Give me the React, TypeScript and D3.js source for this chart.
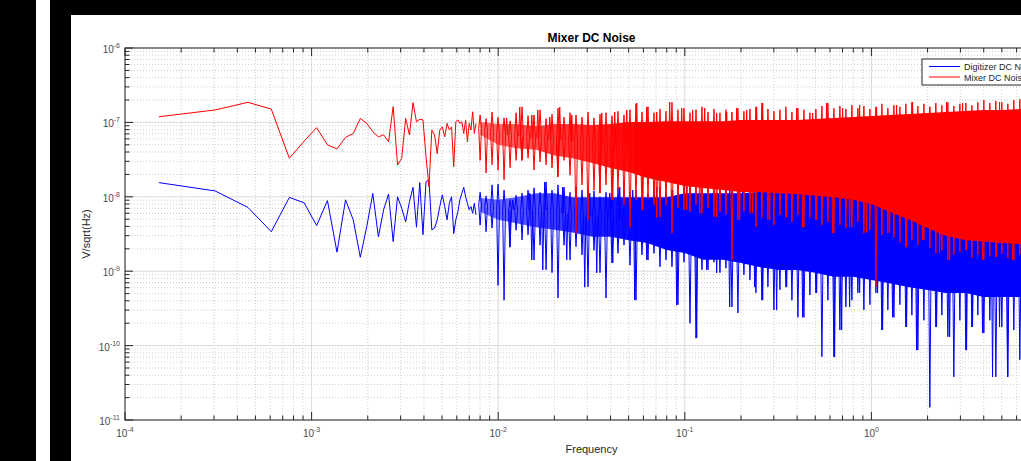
import React from 'react';
import * as d3 from 'd3';

// FFT bins that are still resolved as single points (Hz)
const lowFreq = [
  1.52e-4, 3.04e-4, 4.56e-4, 6.08e-4, 7.6e-4, 9.12e-4, 1.064e-3, 1.216e-3, 1.368e-3, 1.52e-3,
  1.672e-3, 1.824e-3, 1.976e-3, 2.128e-3, 2.28e-3, 2.432e-3, 2.584e-3, 2.736e-3, 2.888e-3, 3.04e-3,
  3.192e-3, 3.344e-3, 3.496e-3, 3.648e-3, 3.8e-3, 3.952e-3, 4.104e-3, 4.256e-3, 4.408e-3, 4.56e-3,
  4.712e-3, 4.864e-3, 5.016e-3, 5.168e-3, 5.32e-3, 5.472e-3, 5.624e-3, 5.776e-3, 5.928e-3, 6.08e-3,
  6.232e-3, 6.384e-3, 6.536e-3, 6.688e-3, 6.84e-3, 6.992e-3, 7.144e-3, 7.296e-3, 7.448e-3, 7.6e-3,
];
const digitizerLow = [
  1.55e-8, 1.2e-8, 7.2e-9, 3.4e-9, 9.8e-9, 8.3e-9, 4.1e-9, 8.9e-9, 1.8e-9, 9.1e-9,
  4.9e-9, 1.54e-9, 4.0e-9, 1.11e-8, 2.9e-9, 6.7e-9, 1.09e-8, 2.5e-9, 1.0e-8, 7.0e-9,
  4.6e-9, 8.6e-9, 1.34e-8, 3.9e-9, 1.55e-8, 3.1e-9, 1.6e-8, 1.68e-8, 3.6e-9, 3.8e-9,
  4.9e-9, 7.4e-9, 1.06e-8, 7.4e-9, 4.9e-9, 8.2e-9, 1.0e-8, 3.2e-9, 4.9e-9, 6.3e-9,
  9.1e-9, 1.11e-8, 1.34e-8, 1.0e-8, 8.2e-9, 6.7e-9, 7.4e-9, 6.0e-9, 8.2e-9, 5.7e-9,
];
const mixerLow = [
  1.19e-7, 1.47e-7, 1.86e-7, 1.51e-7, 3.3e-8, 5.6e-8, 8.5e-8, 5.0e-8, 4.4e-8, 6.3e-8,
  7.1e-8, 1.13e-7, 9.7e-8, 7.5e-8, 6.4e-8, 6.8e-8, 5.5e-8, 1.63e-7, 2.67e-8, 3.3e-8,
  1.13e-7, 6.8e-8, 1.84e-7, 1.02e-7, 1.1e-7, 1.08e-7, 3.46e-8, 1.37e-8, 7.9e-8, 6.8e-8,
  3.8e-8, 7.9e-8, 8.7e-8, 6.4e-8, 9.7e-8, 7.9e-8, 8.7e-8, 2.54e-8, 1.02e-7, 1.08e-7,
  9.7e-8, 1.02e-7, 7.1e-8, 1.08e-7, 5.5e-8, 9.7e-8, 7.9e-8, 1.39e-7, 7.1e-8, 9.7e-8,
];

// above ~8 mHz the trace is too dense to resolve: solid core of the band
const bandFreq = [
  0.008, 0.01, 0.0125, 0.016, 0.02, 0.025, 0.032, 0.04, 0.05, 0.063, 0.08, 0.1, 0.125, 0.16, 0.2, 0.25,
  0.32, 0.4, 0.5, 0.63, 0.8, 1.0, 1.25, 1.6, 2.0, 2.5, 3.2, 4.0, 5.0, 6.3, 8.0, 10,
];
const mixerBandHi = [
  1.01e-7, 9.5e-8, 9.5e-8, 8.9e-8, 9.5e-8, 9.5e-8, 9.2e-8, 9.5e-8, 1.01e-7, 1.01e-7, 1.04e-7, 1.04e-7, 1.04e-7, 1.04e-7, 1.08e-7, 1.08e-7,
  1.08e-7, 1.08e-7, 1.11e-7, 1.15e-7, 1.18e-7, 1.22e-7, 1.26e-7, 1.3e-7, 1.34e-7, 1.38e-7, 1.42e-7, 1.47e-7, 1.47e-7, 1.51e-7, 1.51e-7, 1.51e-7,
];
const mixerBandLo = [
  6.8e-8, 5.0e-8, 4.5e-8, 4.3e-8, 3.6e-8, 3.3e-8, 2.85e-8, 2.44e-8, 2.15e-8, 1.79e-8, 1.58e-8, 1.4e-8, 1.31e-8, 1.23e-8, 1.16e-8, 1.16e-8,
  1.12e-8, 1.09e-8, 1.03e-8, 9.9e-9, 9.1e-9, 8.0e-9, 6.3e-9, 4.9e-9, 3.8e-9, 3.0e-9, 2.6e-9, 2.5e-9, 2.4e-9, 2.3e-9, 2.3e-9, 2.3e-9,
];
const digitizerBandHi = [
  9.6e-9, 9.1e-9, 9.9e-9, 1.12e-8, 1.12e-8, 9.9e-9, 9.9e-9, 9.9e-9, 9.9e-9, 9.9e-9, 9.9e-9, 1.12e-8, 1.12e-8, 1.12e-8, 1.12e-8, 1.16e-8,
  1.16e-8, 1.16e-8, 1.16e-8, 1.16e-8, 1.16e-8, 1.16e-8, 1.16e-8, 1.16e-8, 1.16e-8, 1.16e-8, 1.16e-8, 1.16e-8, 1.16e-8, 1.16e-8, 1.16e-8, 1.16e-8,
];
const digitizerBandLo = [
  6.3e-9, 4.9e-9, 4.4e-9, 3.9e-9, 3.6e-9, 3.3e-9, 2.9e-9, 2.9e-9, 2.6e-9, 2.4e-9, 1.93e-9, 1.76e-9, 1.42e-9, 1.42e-9, 1.29e-9, 1.14e-9,
  1.04e-9, 1.04e-9, 9.5e-10, 8.4e-10, 8.4e-10, 7.6e-10, 6.9e-10, 6.1e-10, 5.6e-10, 5.1e-10, 5.1e-10, 4.5e-10, 4.5e-10, 4.5e-10, 4.5e-10, 4.5e-10,
];

// trace extremes in narrow frequency columns (log10 of V/sqrt(Hz))
const colFreq = [
  0.008, 0.00861, 0.00927, 0.00998, 0.01075, 0.01158, 0.01247, 0.01342, 0.01445, 0.01556,
  0.01676, 0.01805, 0.01943, 0.02092, 0.02253, 0.02426, 0.02612, 0.02813, 0.03029, 0.03261,
  0.03512, 0.03782, 0.04072, 0.04385, 0.04722, 0.05085, 0.05475, 0.05896, 0.06349, 0.06836,
  0.07361, 0.07927, 0.08536, 0.09191, 0.09897, 0.1066, 0.1148, 0.1236, 0.1331, 0.1433,
  0.1543, 0.1661, 0.1789, 0.1926, 0.2074, 0.2234, 0.2405, 0.259, 0.2789, 0.3003,
  0.3234, 0.3482, 0.375, 0.4038, 0.4348, 0.4682, 0.5041, 0.5429, 0.5846, 0.6295,
  0.6778, 0.7299, 0.786, 0.8464, 0.9114, 0.9814, 1.057, 1.138, 1.225, 1.32,
  1.421, 1.53, 1.648, 1.774, 1.911, 2.057, 2.215, 2.386, 2.569, 2.766,
  2.979, 3.207, 3.454, 3.719, 4.005, 4.312, 4.644, 5.0, 5.385, 5.798,
  6.244, 6.72,
];
const mixerColTop = [
  -6.90, -6.95, -6.86, -6.93, -6.94, -6.98, -6.87, -6.79, -6.91, -6.90,
  -6.83, -6.95, -6.89, -6.81, -6.93, -6.87, -6.90, -6.93, -6.86, -6.94,
  -6.89, -6.87, -6.91, -6.85, -6.90, -6.83, -6.75, -6.86, -6.79, -6.87,
  -6.82, -6.85, -6.73, -6.83, -6.81, -6.87, -6.83, -6.79, -6.86, -6.82,
  -6.87, -6.83, -6.86, -6.81, -6.85, -6.82, -6.79, -6.74, -6.82, -6.85,
  -6.83, -6.79, -6.86, -6.81, -6.83, -6.87, -6.82, -6.78, -6.74, -6.81,
  -6.78, -6.82, -6.77, -6.81, -6.78, -6.82, -6.79, -6.75, -6.81, -6.77,
  -6.79, -6.75, -6.73, -6.78, -6.75, -6.79, -6.74, -6.77, -6.73, -6.78,
  -6.75, -6.74, -6.77, -6.73, -6.70, -6.74, -6.71, -6.73, -6.75, -6.70,
  -6.69, -6.71,
];
const mixerColBottom = [
  -7.51, -7.68, -7.57, -7.64, -7.77, -7.61, -7.51, -7.51, -7.48, -7.64,
  -7.53, -7.57, -7.61, -7.73, -7.51, -7.71, -8.49, -7.84, -8.31, -7.91,
  -7.95, -7.84, -8.04, -7.91, -8.11, -8.41, -8.04, -8.18, -8.02, -8.11,
  -8.27, -8.11, -8.49, -8.15, -8.18, -8.20, -8.11, -8.22, -8.15, -8.27,
  -8.20, -8.24, -8.85, -8.31, -8.20, -8.22, -8.41, -8.28, -8.31, -8.38,
  -8.24, -8.27, -8.34, -8.24, -8.41, -8.28, -8.31, -8.38, -8.34, -8.49,
  -8.38, -8.42, -8.41, -8.34, -8.49, -8.45, -9.21, -8.51, -8.49, -8.55,
  -8.61, -8.67, -8.58, -8.65, -8.58, -8.69, -8.76, -8.72, -8.85, -8.78,
  -8.74, -8.72, -8.82, -8.78, -8.85, -8.80, -8.81, -8.77, -8.82, -8.85,
  -8.78, -8.81,
];
const digitizerColTop = [
  -7.94, -7.99, -7.84, -7.83, -7.91, -8.04, -7.98, -7.95, -7.91, -7.88,
  -7.94, -7.80, -7.91, -7.84, -7.87, -7.94, -7.87, -7.91, -7.95, -7.92,
  -8.00, -7.94, -7.95, -7.88, -7.91, -7.94, -7.91, -7.98, -7.95, -7.90,
  -7.87, -7.94, -7.91, -7.95, -7.88, -7.87, -7.94, -7.91, -7.96, -7.95,
  -7.91, -7.90, -7.87, -7.94, -7.91, -7.92, -7.88, -7.91, -7.91, -7.91,
  -7.91, -7.91, -7.91, -7.91, -7.91, -7.91, -7.91, -7.91, -7.91, -7.91,
  -7.91, -7.91, -7.91, -7.91, -7.91, -7.91, -7.91, -7.91, -7.91, -7.91,
  -7.91, -7.91, -7.91, -7.91, -7.91, -7.91, -7.91, -7.91, -7.91, -7.91,
  -7.91, -7.91, -7.91, -7.91, -7.91, -7.91, -7.91, -7.91, -7.91, -7.91,
  -7.91, -7.91,
];
const digitizerColBottom = [
  -8.38, -8.47, -8.42, -9.19, -9.39, -8.67, -8.45, -8.58, -8.51, -8.85,
  -8.65, -8.98, -9.02, -9.36, -8.65, -8.85, -8.67, -8.78, -9.21, -8.72,
  -9.02, -9.36, -8.89, -8.76, -8.65, -8.92, -9.39, -8.78, -8.85, -8.76,
  -8.94, -8.85, -8.94, -9.45, -8.88, -9.70, -9.90, -8.98, -8.98, -8.88,
  -9.02, -8.96, -9.48, -9.56, -9.05, -9.12, -9.29, -9.39, -9.21, -9.52,
  -9.25, -9.21, -9.39, -9.62, -9.62, -9.32, -9.29, -10.15, -9.39, -10.15,
  -9.79, -9.48, -9.39, -9.29, -9.52, -9.45, -9.29, -9.79, -9.52, -9.62,
  -9.45, -9.75, -9.59, -10.06, -9.66, -10.83, -9.75, -9.59, -9.88, -10.42,
  -9.66, -10.06, -9.75, -9.59, -9.83, -9.66, -10.42, -9.75, -10.42, -9.79,
  -10.19, -9.79,
];

// extra single spikes between the columns: [frequency, value]
const mixerPeaks: [number, number][] = [
  [0.0111, 1.15e-7], [0.01305, 1.61e-7], [0.01514, 1.26e-7], [0.0163, 1.47e-7], [0.0189, 1.18e-7],
  [0.02137, 1.61e-7], [0.02479, 1.26e-7], [0.03589, 1.34e-7], [0.04213, 1.38e-7], [0.04885, 1.47e-7],
  [0.05525, 1.82e-7], [0.06252, 1.61e-7], [0.07071, 1.38e-7], [0.08299, 1.88e-7], [0.09625, 1.56e-7],
  [0.1102, 1.47e-7], [0.1278, 1.56e-7], [0.1482, 1.34e-7], [0.1677, 1.38e-7], [0.1897, 1.56e-7],
  [0.2146, 1.47e-7], [0.2427, 1.61e-7], [0.2614, 1.82e-7], [0.3975, 1.56e-7], [0.4842, 1.34e-7],
  [0.5754, 1.82e-7], [0.701, 1.56e-7], [0.8647, 1.71e-7], [1.066, 1.61e-7], [1.365, 1.71e-7],
  [1.662, 1.88e-7], [2.05, 1.61e-7], [2.528, 1.88e-7], [3.08, 1.82e-7], [4.862, 1.88e-7],
  [0.01338, 3.1e-8], [0.02085, 1.85e-8], [0.03502, 1.12e-8], [0.04111, 9.1e-9], [0.05951, 6.7e-9],
  [0.07071, 5.3e-9], [0.1024, 6.7e-9], [0.1202, 6.1e-9], [0.1482, 5.3e-9], [0.1968, 4.9e-9],
  [0.231, 6.1e-9], [0.2849, 4.9e-9], [0.3514, 5.3e-9], [0.428, 3.9e-9], [0.5087, 4.9e-9],
  [0.6196, 3.3e-9], [0.7643, 3.9e-9], [0.9426, 3.3e-9], [1.252, 3.3e-9], [1.543, 2.1e-9],
  [1.88, 2.6e-9], [2.319, 1.76e-9], [2.625, 1.42e-9], [3.236, 1.93e-9], [3.94, 1.42e-9],
  [4.684, 1.55e-9], [5.704, 1.42e-9],
];
const digitizerPeaks: [number, number][] = [
  [0.01197, 9.1e-9], [0.01477, 1.12e-8], [0.01777, 1.58e-8], [0.02218, 1.35e-8], [0.03095, 1.12e-8],
  [0.0396, 1.12e-8], [0.0448, 1.35e-8], [0.05259, 1.23e-8], [0.07071, 1.35e-8], [0.08613, 1.23e-8],
  [0.1024, 1.35e-8], [0.1411, 1.12e-8], [0.174, 1.35e-8], [0.2042, 1.23e-8],
  [0.01153, 2.1e-9], [0.01514, 1.42e-9], [0.01734, 1.04e-9], [0.0233, 1.42e-9], [0.0291, 6.1e-10],
  [0.03374, 9.5e-10], [0.04111, 1.29e-9], [0.05391, 4.1e-10], [0.06252, 1.42e-9], [0.09049, 3.5e-10],
  [0.1158, 1.27e-10], [0.131, 1.04e-9], [0.1482, 9.5e-10], [0.174, 3.3e-10], [0.2368, 6.1e-10],
  [0.2614, 4.1e-10], [0.3106, 3.0e-10], [0.3514, 6.1e-10], [0.428, 2.4e-10], [0.5087, 5.1e-10],
  [0.635, 7.0e-11], [0.6925, 1.62e-10], [0.7643, 3.3e-10], [0.8647, 5.1e-10], [1.079, 5.1e-10],
  [1.148, 1.62e-10], [1.299, 2.4e-10], [1.543, 1.78e-10], [1.746, 8.7e-11], [2.235, 1.78e-10],
  [2.625, 1.31e-10], [3.236, 8.7e-11], [3.484, 1.78e-10], [3.94, 1.48e-10], [4.459, 3.8e-11],
  [4.862, 1.78e-10], [5.364, 3.8e-11],
];

const xDecades = [1e-4, 1e-3, 1e-2, 1e-1, 1e0];
const xDecadeExp = ['-4', '-3', '-2', '-1', '0'];
const yDecades = [1e-11, 1e-10, 1e-9, 1e-8, 1e-7, 1e-6];
const yDecadeExp = ['-11', '-10', '-9', '-8', '-7', '-6'];
const seriesNames = ['Digitizer DC Noise', 'Mixer DC Noise'];
const seriesColors = ['#0000ff', '#ff0000'];

const W = 1021;
const H = 461;
const AX = { left: 125, right: 1058, top: 48, bottom: 420 };
const FONT = '"Liberation Sans", Arial, Helvetica, sans-serif';

const isDecade = (v: number) => Math.abs(Math.log10(v) - Math.round(Math.log10(v))) < 1e-6;

const x = d3.scaleLog().domain([1e-4, 1e1]).range([AX.left, AX.right]);
const y = d3.scaleLog().domain([1e-11, 1e-6]).range([AX.bottom, AX.top]);

type SeriesProps = {
  vals: number[]; hi: number[]; lo: number[];
  colTop: number[]; colBottom: number[]; peaks: [number, number][];
  color: string; id: string;
};

function Series({ vals, hi, lo, colTop, colBottom, peaks, color, id }: SeriesProps) {
  const line = d3.line<number>().x((_, i) => x(lowFreq[i])).y((d) => y(d));
  const area = d3.area<number>()
    .x((f) => x(f))
    .y0((_, i) => y(lo[i]))
    .y1((_, i) => y(hi[i]));
  // geometric middle of the core, used as the foot of each spike
  const mid = d3.scaleLog().domain(bandFreq).range(bandFreq.map((_, i) => Math.sqrt(hi[i] * lo[i])));
  const spike = (f: number, v: number, w: number) => {
    const px = x(f);
    const pm = y(mid(f));
    return `M${px - w},${pm}L${px},${y(v)}L${px + w},${pm}`;
  };
  const spikes: string[] = [];
  colFreq.forEach((f, i) => {
    spikes.push(spike(f, 10 ** colTop[i], 1.4));
    spikes.push(spike(f, 10 ** colBottom[i], 1.4));
  });
  peaks.forEach(([f, v]) => spikes.push(spike(f, v, 1.1)));

  return (
    <g>
      <defs>
        <linearGradient id={id} gradientUnits="userSpaceOnUse" x1={x(0.008)} x2={x(0.06)} y1={0} y2={0}>
          <stop offset="0" stopColor={color} stopOpacity={0.55} />
          <stop offset="1" stopColor={color} stopOpacity={1} />
        </linearGradient>
      </defs>
      <path d={line(vals) ?? ''} fill="none" stroke={color} strokeWidth={1} />
      <path d={area(bandFreq) ?? ''} fill={`url(#${id})`} stroke="none" />
      <path d={spikes.join('')} fill="none" stroke={color} strokeWidth={1} strokeLinejoin="round" />
    </g>
  );
}

export default function App() {
  const xt = x.ticks();
  const yt = y.ticks();
  const axisColor = '#262626';
  const labelColor = '#4a4a4a';

  return (
    <svg width={W} height={H} style={{ position: 'fixed', left: 0, top: 0, background: '#000' }} fontFamily={FONT}>
      <rect x={0} y={0} width={W} height={H} fill="#000" />
      <rect x={36} y={0} width={14} height={H} fill="#fff" />
      <rect x={71} y={15} width={W - 71} height={H - 15} fill="#fff" />

      <defs>
        <clipPath id="plot">
          <rect x={AX.left} y={AX.top} width={AX.right - AX.left} height={AX.bottom - AX.top} />
        </clipPath>
      </defs>

      {/* grid */}
      <g>
        {xt.map((t, i) => (
          <line key={`gx${i}`} x1={x(t)} x2={x(t)} y1={AX.top} y2={AX.bottom}
            stroke={isDecade(t) ? '#dadada' : '#cfcfcf'} strokeWidth={1}
            strokeDasharray={isDecade(t) ? undefined : '1,2'} />
        ))}
        {yt.map((t, i) => (
          <line key={`gy${i}`} y1={y(t)} y2={y(t)} x1={AX.left} x2={AX.right}
            stroke={isDecade(t) ? '#dadada' : '#cfcfcf'} strokeWidth={1}
            strokeDasharray={isDecade(t) ? undefined : '1,2'} />
        ))}
      </g>

      <g clipPath="url(#plot)">
        <Series vals={digitizerLow} hi={digitizerBandHi} lo={digitizerBandLo}
          colTop={digitizerColTop} colBottom={digitizerColBottom} peaks={digitizerPeaks}
          color={seriesColors[0]} id="gradDig" />
        <Series vals={mixerLow} hi={mixerBandHi} lo={mixerBandLo}
          colTop={mixerColTop} colBottom={mixerColBottom} peaks={mixerPeaks}
          color={seriesColors[1]} id="gradMix" />
      </g>

      {/* axes box and ticks */}
      <rect x={AX.left} y={AX.top} width={AX.right - AX.left} height={AX.bottom - AX.top}
        fill="none" stroke={axisColor} strokeWidth={1} />
      {xt.map((t, i) => {
        const len = isDecade(t) ? 8 : 4.5;
        return (
          <g key={`tx${i}`} stroke={axisColor} strokeWidth={1}>
            <line x1={x(t)} x2={x(t)} y1={AX.bottom} y2={AX.bottom - len} />
            <line x1={x(t)} x2={x(t)} y1={AX.top} y2={AX.top + len} />
          </g>
        );
      })}
      {yt.map((t, i) => {
        const len = isDecade(t) ? 8 : 4.5;
        return (
          <line key={`ty${i}`} x1={AX.left} x2={AX.left + len} y1={y(t)} y2={y(t)}
            stroke={axisColor} strokeWidth={1} />
        );
      })}

      {/* tick labels */}
      {xDecades.map((t, i) => (
        <text key={`lx${i}`} x={x(t)} y={437} textAnchor="middle" fill={labelColor} fontSize={10}>
          10<tspan fontSize={7} dy={-5}>{xDecadeExp[i]}</tspan>
        </text>
      ))}
      {yDecades.map((t, i) => (
        <text key={`ly${i}`} x={AX.left - 5} y={y(t) + 5} textAnchor="end" fill={labelColor} fontSize={10}>
          10<tspan fontSize={7} dy={-5}>{yDecadeExp[i]}</tspan>
        </text>
      ))}

      {/* titles */}
      <text x={(AX.left + AX.right) / 2} y={42} textAnchor="middle" fontSize={12} fontWeight="bold" fill="#000">
        Mixer DC Noise
      </text>
      <text x={(AX.left + AX.right) / 2} y={453} textAnchor="middle" fontSize={11} fill="#262626">
        Frequency
      </text>
      <text transform={`translate(${90},${(AX.top + AX.bottom) / 2}) rotate(-90)`} textAnchor="middle"
        fontSize={11} fill="#262626">
        V/sqrt(Hz)
      </text>

      {/* legend */}
      <g>
        <rect x={922} y={59} width={132} height={26} fill="#fff" stroke={axisColor} strokeWidth={1} />
        {seriesNames.map((name, i) => (
          <g key={name}>
            <line x1={929} x2={960} y1={66.5 + i * 10.5} y2={66.5 + i * 10.5} stroke={seriesColors[i]} strokeWidth={1} />
            <text x={964} y={70 + i * 10.5} fontSize={9} fill={axisColor}>{name}</text>
          </g>
        ))}
      </g>
    </svg>
  );
}
